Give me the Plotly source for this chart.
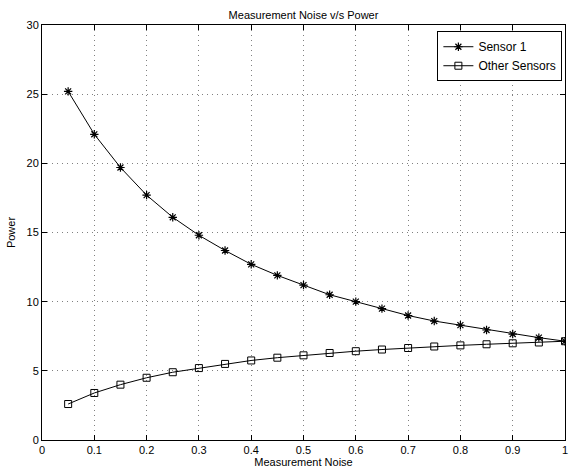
import plotly.graph_objects as go

noise = [0.05, 0.10, 0.15, 0.20, 0.25, 0.30, 0.35, 0.40, 0.45, 0.50,
         0.55, 0.60, 0.65, 0.70, 0.75, 0.80, 0.85, 0.90, 0.95, 1.00]
sensor1_power = [25.2, 22.1, 19.7, 17.7, 16.1, 14.8, 13.7, 12.7, 11.9, 11.2,
                 10.5, 10.0, 9.5, 9.0, 8.6, 8.3, 7.95, 7.66, 7.40, 7.14]
other_power = [2.6, 3.4, 4.0, 4.5, 4.9, 5.2, 5.5, 5.75, 5.95, 6.12,
               6.29, 6.42, 6.54, 6.65, 6.76, 6.84, 6.92, 6.99, 7.05, 7.14]

x_ticks = [0, 0.1, 0.2, 0.3, 0.4, 0.5, 0.6, 0.7, 0.8, 0.9, 1]
x_tick_text = ["0", "0.1", "0.2", "0.3", "0.4", "0.5", "0.6", "0.7", "0.8", "0.9", "1"]
y_ticks = [0, 5, 10, 15, 20, 25, 30]

font = "Liberation Sans, Arial, sans-serif"

fig = go.Figure()
fig.add_trace(go.Scatter(
    x=noise, y=sensor1_power, mode="lines+markers", name="Sensor 1",
    line=dict(color="black", width=1),
    marker=dict(symbol="asterisk-open", size=7, color="black",
                line=dict(color="black", width=1.2)),
))
fig.add_trace(go.Scatter(
    x=noise, y=other_power, mode="lines+markers", name="Other Sensors",
    line=dict(color="black", width=1),
    marker=dict(symbol="square-open", size=7, color="black",
                line=dict(color="black", width=1)),
))

axis_common = dict(
    showline=True, linecolor="black", linewidth=1, mirror="ticks",
    ticks="inside", ticklen=5, tickcolor="black",
    showgrid=True, gridcolor="#808080", griddash="1px,4px", gridwidth=1,
    zeroline=False, tickfont=dict(family=font, size=11, color="black"),
)

fig.update_layout(
    width=573, height=473,
    margin=dict(l=42, r=5, t=25, b=33),
    paper_bgcolor="white", plot_bgcolor="white",
    font=dict(family=font, size=11, color="black"),
    title=dict(text="Measurement Noise v/s Power", x=0.5, xref="paper",
               y=1, yref="paper", yanchor="bottom", pad=dict(b=6),
               font=dict(family=font, size=11, color="black")),
    xaxis=dict(range=[0, 1], tickvals=x_ticks, ticktext=x_tick_text,
               title=dict(text="Measurement Noise", standoff=2,
                          font=dict(family=font, size=11)),
               **axis_common),
    yaxis=dict(range=[0, 30], tickvals=y_ticks,
               title=dict(text="Power", standoff=8,
                          font=dict(family=font, size=11)),
               **axis_common),
    legend=dict(x=0.995, y=0.985, xanchor="right", yanchor="top",
                bgcolor="white", bordercolor="black", borderwidth=1,
                font=dict(family=font, size=12, color="black"),
                tracegroupgap=0, itemwidth=30),
    showlegend=True,
)

fig.write_html("out.html")
